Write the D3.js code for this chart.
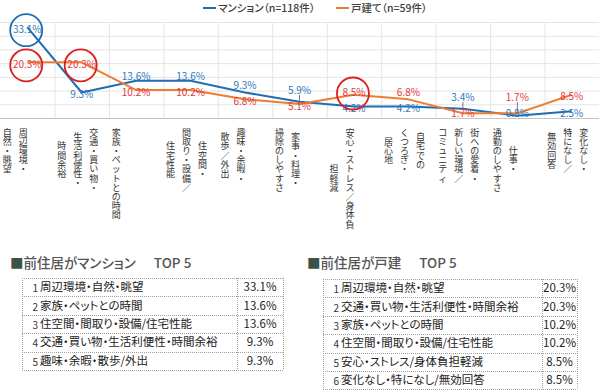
<!DOCTYPE html>
<html>
<head>
<meta charset="utf-8">
<script src="https://cdn.jsdelivr.net/npm/d3@7"></script>
<style>
  body { margin: 0; background: #fff; }
  svg { display: block; font-family: "Noto Sans CJK JP", "Noto Sans", sans-serif; }
  .palt { font-feature-settings: "palt"; }
</style>
</head>
<body>
<div id="chart"></div>
<script>
// category labels, one entry per line of the vertical label
const categories = [
    ["周辺環境・", "自然・眺望"],
    ["交通・買い物・", "生活利便性・", "時間余裕"],
    ["家族・ペットとの時間"],
    ["住空間・", "間取り・設備／", "住宅性能"],
    ["趣味・余暇・", "散歩／外出"],
    ["家事・料理・", "掃除のしやすさ"],
    ["安心・ストレス／身体負", "担軽減"],
    ["自宅での", "くつろぎ・", "居心地"],
    ["街への愛着・", "新しい環境／", "コミュニティ"],
    ["仕事・", "通勤のしやすさ"],
    ["変化なし・", "特になし／", "無効回答"]
];
const mansionValues  = [33.1, 9.3, 13.6, 13.6, 9.3, 5.9, 4.2, 4.2, 3.4, 0.8, 2.5];
const detachedValues = [20.3, 20.3, 10.2, 10.2, 6.8, 5.1, 8.5, 6.8, 1.7, 1.7, 8.5];
const seriesNames = ["マンション（n=118件）", "戸建て（n=59件）"];
const yTicks = [0, 5, 10, 15, 20, 25, 30, 35];
// circled labels: [series index, category index]
const highlights = [[0, 0], [1, 0], [1, 1], [1, 6]];
const tableTitles = ["前住居がマンション", "前住居が戸建"];
const tableTag = "TOP 5";

window.onload = () => {
    const w = 600, h = 390;
    const lineColors = ["#1f6db3", "#ed7d31"];
    const labelColors = ["#2e78bd", "#e5393a"];
    const circleColors = ["#1f6db3", "#d9201f"];
    const series = [mansionValues, detachedValues];

    const svg = d3.select("#chart").append("svg")
        .attr("width", w)
        .attr("height", h);

    const xScale = d3.scaleBand()
        .domain(d3.range(categories.length))
        .range([0, 599]);

    const yScale = d3.scaleLinear()
        .domain([0, 35])
        .range([118, 22]);

    const cx = (i) => xScale(i) + xScale.bandwidth() / 2;

    // grid
    const yAxis = d3.axisLeft(yScale)
        .tickValues(yTicks)
        .tickSize(-599)
        .tickFormat("");
    const gy = svg.append("g").call(yAxis);
    gy.select(".domain").remove();
    gy.selectAll(".tick line").attr("stroke", "#e4e4e4");

    svg.append("g").selectAll("line")
        .data(d3.range(1, categories.length))
        .join("line")
        .attr("x1", (d) => xScale(d) + 0.5)
        .attr("x2", (d) => xScale(d) + 0.5)
        .attr("y1", yScale(35))
        .attr("y2", yScale(0))
        .attr("stroke", "#e4e4e4");

    svg.append("line")
        .attr("x1", 0).attr("x2", 599)
        .attr("y1", yScale(0) + 0.5).attr("y2", yScale(0) + 0.5)
        .attr("stroke", "#c4c4c4");

    // x labels, one glyph per step down, columns centred on the longest one
    const charStep = 9.2, colStep = 16;
    const xl = svg.append("g")
        .attr("font-size", 9)
        .attr("fill", "#333");
    categories.forEach((lines, i) => {
        const maxLen = d3.max(lines, (s) => s.length);
        lines.forEach((s, j) => {
            const x = cx(i) - 20 + (lines.length - 1 - j) * colStep;
            const top = 132.5 + (maxLen - s.length) / 2 * charStep;
            const t = xl.append("text").attr("text-anchor", "middle");
            Array.from(s).forEach((ch, k) => {
                t.append("tspan")
                    .attr("x", x)
                    .attr("y", top + k * charStep)
                    .attr("dy", "0.35em")
                    .text(ch);
            });
        });
    });

    // lines
    series.forEach((vals, si) => {
        const line = d3.line()
            .x((d, i) => cx(i))
            .y((d) => yScale(d));
        svg.append("path")
            .datum(vals)
            .attr("fill", "none")
            .attr("stroke", lineColors[si])
            .attr("stroke-width", 2)
            .attr("stroke-linejoin", "round")
            .attr("d", line);
    });

    // label placement: centre on the point, push the upper one up when they collide
    const labelPos = categories.map((c, i) => {
        let ys = series.map((vals) => Math.min(yScale(vals[i]) + 2, 113));
        if (Math.abs(ys[0] - ys[1]) < 16) {
            if (mansionValues[i] >= detachedValues[i]) ys[0] = ys[1] - 16;
            else ys[1] = ys[0] - 16;
        }
        return ys;
    });

    series.forEach((vals, si) => {
        const g = svg.append("g");
        vals.forEach((v, i) => {
            const ly = labelPos[i][si];
            const py = yScale(v);
            if (py - (ly + 5) > 3) {
                g.append("line")
                    .attr("x1", cx(i)).attr("x2", cx(i))
                    .attr("y1", ly + 5).attr("y2", py - 1)
                    .attr("stroke", "#555")
                    .attr("stroke-width", 0.8);
            }
            g.append("text")
                .attr("x", cx(i))
                .attr("y", ly)
                .attr("dy", "0.35em")
                .attr("text-anchor", "middle")
                .attr("font-size", 10)
                .attr("fill", labelColors[si])
                .text(v.toFixed(1) + "%");
        });
    });

    // highlight circles
    svg.append("g").selectAll("circle")
        .data(highlights)
        .join("circle")
        .attr("cx", (d) => cx(d[1]) - 1)
        .attr("cy", (d) => labelPos[d[1]][d[0]] + 1)
        .attr("r", 16)
        .attr("fill", "none")
        .attr("stroke", (d) => circleColors[d[0]])
        .attr("stroke-width", 1.8);

    // legend
    const legendX = [203, 336];
    seriesNames.forEach((name, si) => {
        svg.append("line")
            .attr("x1", legendX[si]).attr("x2", legendX[si] + 13)
            .attr("y1", 8).attr("y2", 8)
            .attr("stroke", lineColors[si])
            .attr("stroke-width", 2);
        svg.append("text")
            .attr("class", "palt")
            .attr("x", legendX[si] + 15)
            .attr("y", 8)
            .attr("dy", "0.35em")
            .attr("font-size", 10.5)
            .attr("font-weight", 500)
            .attr("fill", "#404040")
            .text(name);
    });

    // TOP tables, built from the same data
    const itemName = (i) => categories[i].join("").replace(/／/g, "/");
    const topList = (vals) => {
        const order = d3.range(vals.length).sort((a, b) => vals[b] - vals[a]);
        const cut = vals[order[4]];
        return order.filter((i) => vals[i] >= cut);
    };

    const tables = [
        { titleX: 10, left: 22, right: 283, div: 237, top: 278 },
        { titleX: 307, left: 323, right: 577, div: 542, top: 279 }
    ];
    const rowH = 18.4;

    tables.forEach((tb, si) => {
        const vals = series[si];
        const rows = topList(vals);
        const g = svg.append("g");

        const title = g.append("text")
            .attr("class", "palt")
            .attr("x", tb.titleX)
            .attr("y", 268)
            .attr("font-size", 13.5)
            .attr("font-weight", 500)
            .attr("fill", "#555");
        title.append("tspan").attr("fill", "#3d5247").text("■");
        title.append("tspan").text(tableTitles[si]);
        title.append("tspan").attr("dx", 18).text(tableTag);

        const bottom = tb.top + rows.length * rowH;
        const dotted = (x1, y1, x2, y2) => g.append("line")
            .attr("x1", x1).attr("y1", y1).attr("x2", x2).attr("y2", y2)
            .attr("stroke", "#a0a0a0")
            .attr("stroke-dasharray", "1,1");

        d3.range(rows.length + 1).forEach((k) => {
            const yy = Math.round(tb.top + k * rowH) + 0.5;
            dotted(tb.left, yy, tb.right, yy);
        });
        dotted(tb.left + 0.5, tb.top, tb.left + 0.5, bottom);
        dotted(tb.div + 0.5, tb.top, tb.div + 0.5, bottom);
        dotted(tb.right + 0.5, tb.top, tb.right + 0.5, bottom);

        rows.forEach((ci, k) => {
            const yc = tb.top + k * rowH + rowH / 2;
            g.append("text")
                .attr("x", tb.left + 16)
                .attr("y", yc + 5)
                .attr("text-anchor", "end")
                .attr("font-size", 10)
                .attr("fill", "#333")
                .text(k + 1);
            g.append("text")
                .attr("class", "palt")
                .attr("x", tb.left + 18)
                .attr("y", yc)
                .attr("dy", "0.35em")
                .attr("font-size", 11.5)
                .attr("fill", "#222")
                .text(itemName(ci));
            g.append("text")
                .attr("x", (tb.div + tb.right) / 2)
                .attr("y", yc)
                .attr("dy", "0.35em")
                .attr("text-anchor", "middle")
                .attr("font-size", 11.5)
                .attr("fill", "#222")
                .text(vals[ci].toFixed(1) + "%");
        });
    });
};
</script>
</body>
</html>
